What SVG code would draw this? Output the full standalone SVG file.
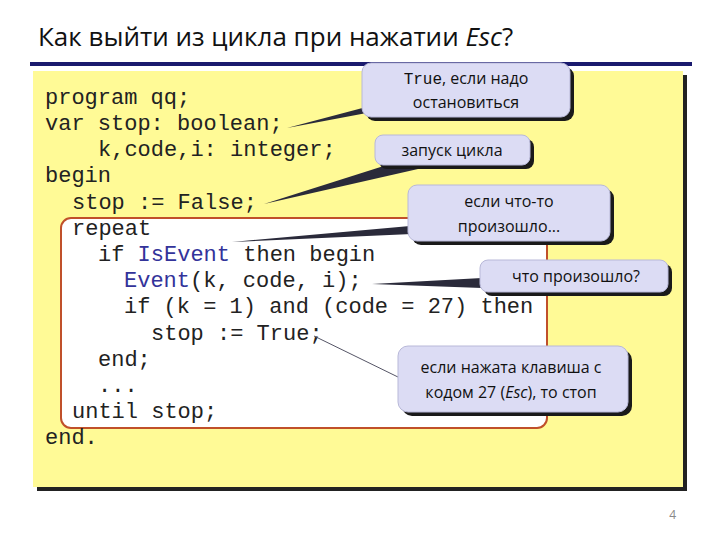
<svg xmlns="http://www.w3.org/2000/svg" width="720" height="540" viewBox="0 0 720 540">
<defs>
<style>
.code{font-family:"Liberation Mono",monospace;font-size:22px;fill:#222}
.kw{fill:#33339a}
.cl{fill:#dcdcf4;stroke:#b8b8d8;stroke-width:1}
.sh{fill:#1a1a1a}
.ct{font-family:"Open Sans","Noto Sans",sans-serif;font-size:16px;fill:#111;text-anchor:middle}
.ptr{fill:#2a2a3a}
</style>
</defs>
<rect width="720" height="540" fill="#fff"/>
<text x="38" y="46" font-family="Open Sans, sans-serif" font-size="26" fill="#111">Как выйти из цикла при нажатии <tspan font-style="italic">Esc</tspan>?</text>
<rect x="30" y="62" width="662" height="4" fill="#1a1a6e"/>
<rect x="37" y="75" width="650" height="416" fill="#222"/>
<rect x="33" y="71" width="650" height="416" fill="#fffa96"/>
<rect x="61" y="218" width="486" height="210" rx="10" fill="#fff" stroke="#c0502a" stroke-width="2"/>
<g id="code">
<text class="code" x="45" y="104">program qq;</text>
<text class="code" x="45" y="130">var stop: boolean;</text>
<text class="code" x="98" y="156">k,code,i: integer;</text>
<text class="code" x="45" y="182">begin</text>
<text class="code" x="72" y="209">stop := False;</text>
<text class="code" x="72" y="235">repeat</text>
<text class="code" x="98" y="261">if <tspan class="kw">IsEvent</tspan> then begin</text>
<text class="code" x="124" y="287"><tspan class="kw">Event</tspan>(k, code, i);</text>
<text class="code" x="124" y="313">if (k = 1) and (code = 27) then</text>
<text class="code" x="151" y="340">stop := True;</text>
<text class="code" x="98" y="366">end;</text>
<text class="code" x="98" y="392">...</text>
<text class="code" x="72" y="418">until stop;</text>
<text class="code" x="45" y="444">end.</text>
</g>
<g id="connectors">
<polygon class="ptr" points="287,128 370,106 372,112"/>
<polygon class="ptr" points="264,204 390,164 440,164"/>
<polygon class="ptr" points="232,242 410,226 412,234"/>
<polygon class="ptr" points="372,284 482,278 482,288"/>
<line x1="314" y1="336" x2="400" y2="378" stroke="#556" stroke-width="1"/>
</g>
<g id="c1"><rect class="sh" x="366" y="67" width="208" height="54" rx="9"/><rect class="cl" x="362" y="63" width="208" height="54" rx="9"/>
<text class="ct" x="466" y="84"><tspan font-family="Liberation Mono, monospace">True</tspan>, если надо</text><text class="ct" x="466" y="108">остановиться</text></g>
<g id="c2"><rect class="sh" x="379" y="139" width="155" height="30" rx="8"/><rect class="cl" x="375" y="135" width="155" height="30" rx="8"/>
<text class="ct" x="452" y="156">запуск цикла</text></g>
<g id="c3"><rect class="sh" x="412" y="189" width="202" height="56" rx="9"/><rect class="cl" x="408" y="185" width="202" height="56" rx="9"/>
<text class="ct" x="509" y="207">если что-то</text><text class="ct" x="509" y="232">произошло...</text></g>
<g id="c4"><rect class="sh" x="484" y="264" width="188" height="32" rx="8"/><rect class="cl" x="480" y="260" width="188" height="32" rx="8"/>
<text class="ct" x="576" y="282">что произошло?</text></g>
<g id="c5"><rect class="sh" x="402" y="350" width="230" height="66" rx="10"/><rect class="cl" x="398" y="346" width="230" height="66" rx="10"/>
<text class="ct" x="511" y="373">если нажата клавиша с</text><text class="ct" x="511" y="398">кодом 27 (<tspan font-style="italic">Esc</tspan>), то стоп</text></g>
<text x="676" y="519" font-family="Open Sans, sans-serif" font-size="12" fill="#888" text-anchor="end">4</text>
</svg>
